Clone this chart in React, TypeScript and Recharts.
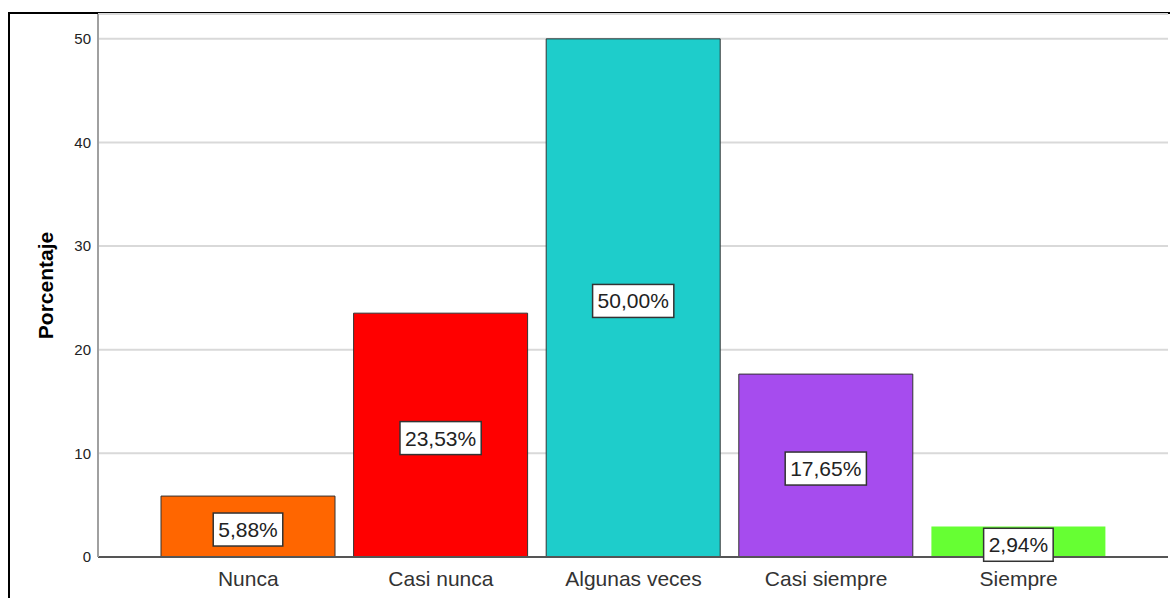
import { BarChart, Bar, XAxis, YAxis, CartesianGrid, Cell, LabelList } from 'recharts'

// chart values
const categories = ['Nunca', 'Casi nunca', 'Algunas veces', 'Casi siempre', 'Siempre']
const percentages = [5.88, 23.53, 50.0, 17.65, 2.94]
const yTicks = [0, 10, 20, 30, 40, 50]

// styles
const barColors = ['#ff6600', '#ff0000', '#1ecdcb', '#a64cee', '#66ff33']
const barStrokes = ['#333', '#333', '#333', '#333', 'none']
const FONT = '"Liberation Sans", Arial, sans-serif'

const data = categories.map((name, i) => ({ name, value: percentages[i] }))

const fmt = (v: number) => v.toFixed(2).replace('.', ',') + '%'

// rough Arial advance widths, in em
const charWidth = (c: string) => (c === ',' ? 0.278 : c === '%' ? 0.889 : 0.556)
const textWidth = (s: string) => s.split('').reduce((acc, c) => acc + charWidth(c), 0)

const ValueBox = (props: any) => {
  const { x, y, width, height, value } = props
  const text = fmt(value)
  const fs = 21
  const w = textWidth(text) * fs + 10
  const h = 33
  const cx = x + width / 2
  const cy = y + height / 2 + 3
  return (
    <g>
      <rect x={cx - w / 2} y={cy - h / 2} width={w} height={h} fill="#fff" stroke="#333" strokeWidth={1.5} />
      <text x={cx} y={cy} dy="0.36em" textAnchor="middle" fontSize={fs} fill="#222" fontFamily={FONT}>
        {text}
      </text>
    </g>
  )
}

const YLabel = (props: any) => {
  const vb = props.viewBox || { x: 0, y: 14, width: 98, height: 543 }
  const cx = 45
  const cy = vb.y + vb.height / 2
  return (
    <text
      x={cx}
      y={cy}
      dy="0.36em"
      textAnchor="middle"
      transform={`rotate(-90, ${cx}, ${cy})`}
      fontSize={21}
      fontWeight="bold"
      fill="#000"
      fontFamily={FONT}
    >
      Porcentaje
    </text>
  )
}

export default function App() {
  return (
    <div style={{ position: 'absolute', left: 0, top: 0, width: 1170, height: 598, background: '#fff' }}>
      <div
        style={{
          position: 'absolute',
          left: 8,
          top: 12,
          width: 1162,
          height: 586,
          borderLeft: '2px solid #000',
          borderTop: '2px solid #000',
          boxSizing: 'border-box',
        }}
      />
      <div style={{ position: 'absolute', left: 0, top: 0 }}>
        <BarChart
          width={1170}
          height={598}
          data={data}
          margin={{ top: 14, right: 2, bottom: 0, left: 0 }}
          style={{ fontFamily: FONT }}
        >
          <CartesianGrid horizontal vertical={false} stroke="#d9d9d9" strokeWidth={2} />
          <XAxis
            dataKey="name"
            height={41}
            padding={{ left: 54, right: 53 }}
            axisLine={{ stroke: '#555', strokeWidth: 2 }}
            tickLine={false}
            tickMargin={8}
            tick={{ fontSize: 21, fill: '#333', fontFamily: FONT }}
            interval={0}
          />
          <YAxis
            width={98}
            domain={[0, 52.4]}
            ticks={yTicks}
            axisLine={{ stroke: '#a0a0a0', strokeWidth: 2 }}
            tickLine={false}
            tickMargin={1}
            tick={{ fontSize: 15, fill: '#222', fontFamily: FONT }}
            label={<YLabel />}
          />
          <Bar dataKey="value" barSize={174} isAnimationActive={false}>
            {data.map((d, i) => (
              <Cell key={d.name} fill={barColors[i]} stroke={barStrokes[i]} strokeWidth={1} />
            ))}
            <LabelList dataKey="value" content={<ValueBox />} />
          </Bar>
        </BarChart>
      </div>
    </div>
  )
}
